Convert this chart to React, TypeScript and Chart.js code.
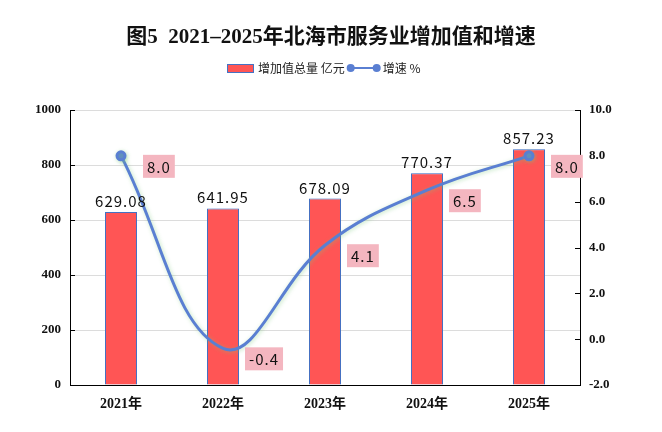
import { useEffect, useRef } from "react";
import { Chart, registerables } from "chart.js";

Chart.register(...registerables);

const years = ["2021年", "2022年", "2023年", "2024年", "2025年"];
const totals = [629.08, 641.95, 678.09, 770.37, 857.23];
const growth = [8.0, -0.4, 4.1, 6.5, 8.0];
const leftRange = [0, 1000, 200];
const rightRange = [-2, 10, 2];

const titleText = "图5  2021–2025年北海市服务业增加值和增速";
const totalLabel = "增加值总量 亿元";
const growthLabel = "增速 %";

const BAR_FILL = "#ff5555";
const BAR_EDGE = "#4472c4";
const LINE_COLOR = "#5a7fd2";
const BOX_COLOR = "#f4b6c0";
const SERIF = '"Liberation Serif", "Noto Sans CJK SC", serif';
const SANS = '"Noto Sans CJK SC", "Noto Sans", sans-serif';

const decorPlugin = {
  id: "decor",
  beforeDatasetDraw(chart: any, args: any) {
    const ctx = chart.ctx;
    ctx.save();
    if (args.meta.type === "bar") {
      ctx.shadowColor = "rgba(68,114,196,0.35)";
      ctx.shadowBlur = 5;
      ctx.shadowOffsetX = 2;
      ctx.shadowOffsetY = 1;
    } else {
      ctx.shadowColor = "rgba(120,200,120,0.45)";
      ctx.shadowBlur = 4;
      ctx.shadowOffsetX = 1;
      ctx.shadowOffsetY = 1;
    }
  },
  afterDatasetDraw(chart: any) {
    chart.ctx.restore();
  },
  afterDraw(chart: any) {
    const ctx = chart.ctx;
    const area = chart.chartArea;
    const yl = chart.scales.y;
    const yr = chart.scales.y1;

    // inner tick marks
    ctx.save();
    ctx.strokeStyle = "#000";
    ctx.lineWidth = 1;
    ctx.beginPath();
    yl.ticks.forEach((t: any) => {
      const py = Math.round(yl.getPixelForValue(t.value)) + 0.5;
      ctx.moveTo(area.left, py);
      ctx.lineTo(area.left + 5, py);
    });
    yr.ticks.forEach((t: any) => {
      const py = Math.round(yr.getPixelForValue(t.value)) + 0.5;
      ctx.moveTo(area.right - 5, py);
      ctx.lineTo(area.right, py);
    });
    ctx.stroke();
    ctx.restore();

    // bar value labels
    ctx.save();
    ctx.font = "15px " + SANS;
    (ctx as any).letterSpacing = "1px";
    ctx.fillStyle = "#111";
    ctx.textAlign = "center";
    ctx.textBaseline = "alphabetic";
    const barMeta = chart.getDatasetMeta(1);
    barMeta.data.forEach((el: any, i: number) => {
      ctx.fillText(totals[i].toFixed(2), el.x, el.y - 5);
    });

    // growth labels in boxes
    const lineMeta = chart.getDatasetMeta(0);
    ctx.textAlign = "left";
    ctx.textBaseline = "middle";
    lineMeta.data.forEach((el: any, i: number) => {
      const txt = growth[i].toFixed(1);
      const w = ctx.measureText(txt).width + 8;
      const bx = el.x + 22;
      const by = el.y - 1;
      ctx.fillStyle = BOX_COLOR;
      ctx.fillRect(bx, by, w, 23);
      ctx.fillStyle = "#111";
      ctx.fillText(txt, bx + 4, by + 12);
    });
    ctx.restore();

    // title
    ctx.save();
    ctx.font = "bold 21px " + SERIF;
    ctx.fillStyle = "#111";
    ctx.textAlign = "center";
    ctx.textBaseline = "middle";
    ctx.fillText(titleText, chart.width / 2, 38);
    ctx.restore();

    // legend
    ctx.save();
    ctx.font = "12px " + SANS;
    ctx.textBaseline = "middle";
    let x = 227;
    const ly = 68;
    ctx.fillStyle = BAR_FILL;
    ctx.fillRect(x, ly - 4, 27, 9);
    ctx.strokeStyle = BAR_EDGE;
    ctx.lineWidth = 1;
    ctx.strokeRect(x + 0.5, ly - 3.5, 26, 8);
    x += 31;
    ctx.fillStyle = "#222";
    ctx.fillText(totalLabel, x, ly);
    x += ctx.measureText(totalLabel).width + 6;
    ctx.strokeStyle = LINE_COLOR;
    ctx.lineWidth = 2;
    ctx.beginPath();
    ctx.moveTo(x, ly);
    ctx.lineTo(x + 26, ly);
    ctx.stroke();
    ctx.fillStyle = LINE_COLOR;
    [x, x + 26].forEach((cx) => {
      ctx.beginPath();
      ctx.arc(cx, ly, 4, 0, Math.PI * 2);
      ctx.fill();
    });
    ctx.fillStyle = "#222";
    ctx.fillText(growthLabel, x + 32, ly);
    ctx.restore();
  },
};

export default function App() {
  const canvasRef = useRef<HTMLCanvasElement>(null);
  const chartRef = useRef<Chart | null>(null);

  useEffect(() => {
    document.body.style.margin = "0";
    if (!canvasRef.current) return;
    if (chartRef.current) chartRef.current.destroy();
    const ctx = canvasRef.current.getContext("2d");
    if (!ctx) return;

    chartRef.current = new Chart(ctx, {
      type: "bar",
      data: {
        labels: years,
        datasets: [
          {
            type: "line",
            label: growthLabel,
            data: growth,
            yAxisID: "y1",
            borderColor: LINE_COLOR,
            backgroundColor: LINE_COLOR,
            borderWidth: 3,
            tension: 0.4,
            pointRadius: [4, 0, 0, 0, 4],
            pointHoverRadius: 0,
            fill: false,
            order: 0,
          } as any,
          {
            type: "bar",
            label: totalLabel,
            data: totals,
            yAxisID: "y",
            backgroundColor: BAR_FILL,
            borderColor: BAR_EDGE,
            borderWidth: 1,
            barPercentage: 0.314,
            categoryPercentage: 1,
            order: 1,
          },
        ],
      },
      options: {
        responsive: false,
        animation: false,
        layout: { padding: { top: 110, left: 0, right: 0, bottom: 0 } },
        plugins: {
          legend: { display: false },
          title: { display: false },
          tooltip: { enabled: false },
        },
        scales: {
          x: {
            grid: { display: false, drawTicks: false },
            border: { color: "#000", width: 1 },
            ticks: {
              color: "#111",
              padding: 11,
              font: { family: SERIF, size: 14, weight: "bold" },
            },
            afterFit: (s: any) => {
              s.height = 47;
            },
          },
          y: {
            position: "left",
            min: leftRange[0],
            max: leftRange[1],
            ticks: {
              stepSize: leftRange[2],
              color: "#111",
              padding: 9,
              font: { family: SERIF, size: 13, weight: "bold" },
              callback: (v: any) => String(v),
            },
            grid: { color: "#dcdcdc", drawTicks: false },
            border: { color: "#000", width: 1 },
            afterFit: (s: any) => {
              s.width = 70;
            },
          },
          y1: {
            position: "right",
            min: rightRange[0],
            max: rightRange[1],
            ticks: {
              stepSize: rightRange[2],
              color: "#111",
              padding: 9,
              font: { family: SERIF, size: 13, weight: "bold" },
              callback: (v: any) => Number(v).toFixed(1),
            },
            grid: { display: false, drawTicks: false },
            border: { color: "#000", width: 1 },
            afterFit: (s: any) => {
              s.width = 82;
            },
          },
        },
      },
      plugins: [decorPlugin],
    });

    return () => {
      if (chartRef.current) {
        chartRef.current.destroy();
        chartRef.current = null;
      }
    };
  }, []);

  return (
    <div style={{ width: 662, height: 432, background: "#fff" }}>
      <canvas ref={canvasRef} width={662} height={432} data-testid="chart-services"></canvas>
    </div>
  );
}
